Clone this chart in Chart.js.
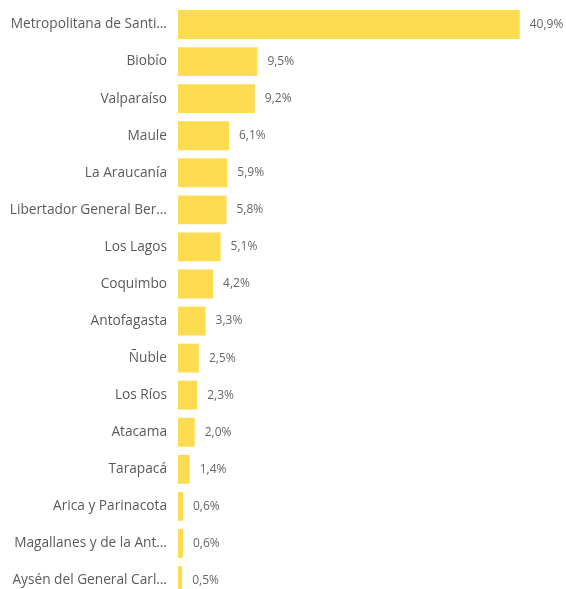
<!DOCTYPE html>
<html>
<head>
<meta charset="utf-8">
<script src="https://cdn.jsdelivr.net/npm/chart.js@4"></script>
<style>
  html, body { margin: 0; padding: 0; background: #fff; overflow: hidden; }
  canvas { display: block; }
</style>
</head>
<body>
<canvas id="regionChart" width="566" height="605"></canvas>
<script>
// Regions (labels as shown, truncated in the original)
const regions = [
  'Metropolitana de Santi…', 'Biobío', 'Valparaíso', 'Maule', 'La Araucanía',
  'Libertador General Ber…', 'Los Lagos', 'Coquimbo', 'Antofagasta', 'Ñuble',
  'Los Ríos', 'Atacama', 'Tarapacá', 'Arica y Parinacota',
  'Magallanes y de la Ant…', 'Aysén del General Carl…'
];
const shares = [40.9, 9.5, 9.2, 6.1, 5.9, 5.8, 5.1, 4.2, 3.3, 2.5, 2.3, 2.0, 1.4, 0.6, 0.6, 0.5];

const barColor = '#FDDC52';

// value labels to the right of each bar
const valueLabels = {
  id: 'valueLabels',
  afterDatasetsDraw(chart) {
    const ctx = chart.ctx;
    const meta = chart.getDatasetMeta(0);
    ctx.save();
    ctx.font = '12px "Open Sans"';
    ctx.fillStyle = '#666';
    ctx.textBaseline = 'middle';
    meta.data.forEach((bar, i) => {
      const txt = shares[i].toFixed(1).replace('.', ',') + '%';
      ctx.fillText(txt, bar.x + 10, bar.y);
    });
    ctx.restore();
  }
};

new Chart(document.getElementById('regionChart'), {
  type: 'bar',
  data: {
    labels: regions,
    datasets: [{
      data: shares,
      backgroundColor: barColor,
      borderWidth: 0,
      barPercentage: 1,
      categoryPercentage: 0.78
    }]
  },
  options: {
    indexAxis: 'y',
    responsive: false,
    animation: false,
    layout: { padding: { top: 6, bottom: 6, left: 0, right: 12 } },
    plugins: {
      legend: { display: false },
      tooltip: { enabled: false }
    },
    scales: {
      x: {
        display: false,
        min: 0,
        max: 45
      },
      y: {
        grid: { display: false, drawTicks: false },
        border: { display: false },
        afterFit(axis) {
          axis.width = 178;
          axis.paddingTop = 0;
          axis.paddingBottom = 0;
        },
        ticks: {
          color: '#5a5a5a',
          padding: 11,
          font: { family: '"Open Sans"', size: 13.7 }
        }
      }
    }
  },
  plugins: [valueLabels]
});
</script>
</body>
</html>
